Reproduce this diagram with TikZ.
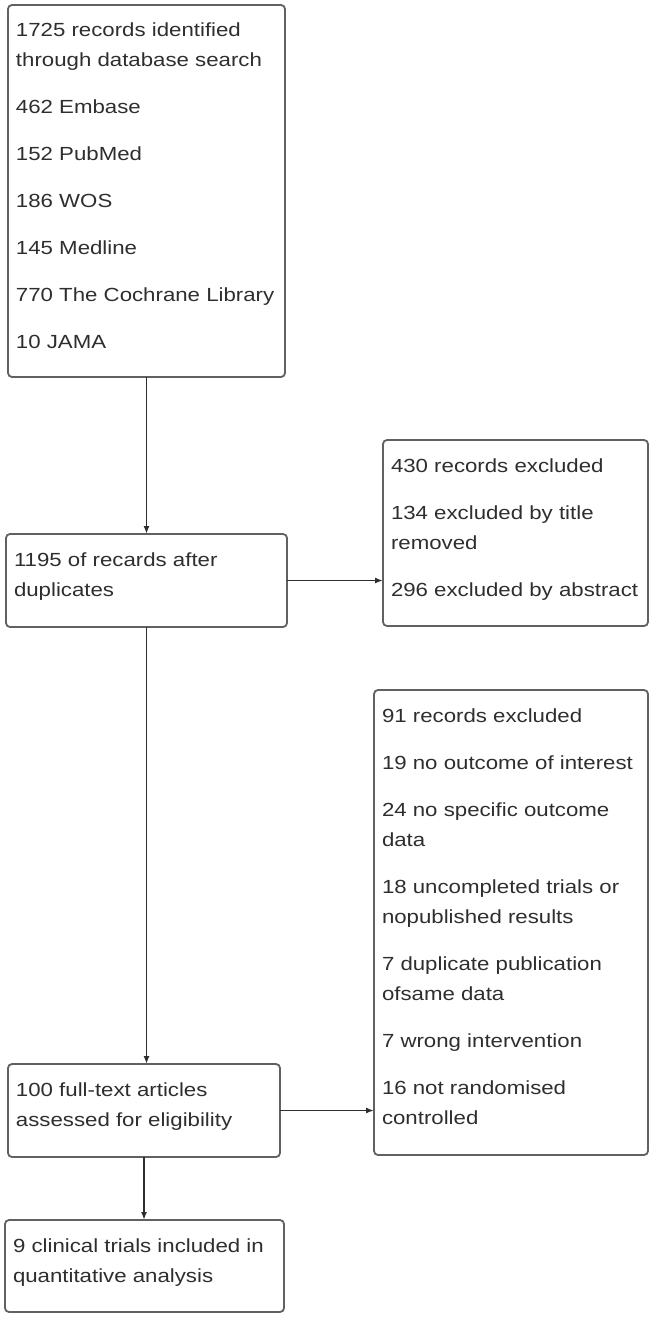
\documentclass[tikz,border=0pt]{standalone}
\usepackage{fontspec}
\setmainfont[FakeStretch=1.17]{Liberation Sans}
\usetikzlibrary{arrows.meta}
\newcommand\bxtext[3]{\parbox[c][#2][t]{#1}{\fontsize{19}{30}\selectfont\raggedright\rule{0pt}{32pt}#3}}
\tikzset{
  boxnode/.style={draw=black!62, line width=1.8pt, rounded corners=4pt, inner xsep=8pt, inner ysep=0pt, outer sep=0pt, text=black!82, anchor=north west},
  conn/.style={draw=black!82, line width=1.7pt, -{Latex[length=8pt,width=6pt]}}
}
\begin{document}
\begin{tikzpicture}[x=1pt,y=1pt]
\useasboundingbox (0,0) rectangle (661,-1321);
\node[boxnode] (b1) at (8,-5) {\bxtext{261pt}{372pt}{%
\mbox{1725 records identified}\\\mbox{through database search}\\[17pt]%
\mbox{462 Embase}\\[17pt]\mbox{152 PubMed}\\[17pt]\mbox{186 WOS}\\[17pt]%
\mbox{145 Medline}\\[17pt]\mbox{770 The Cochrane Library}\\[17pt]\mbox{10 JAMA}}};
\node[boxnode] (b2) at (6,-534) {\bxtext{265pt}{93pt}{%
\mbox{1195 of recards after}\\\mbox{duplicates}}};
\node[boxnode] (b3) at (383,-440) {\bxtext{249pt}{186pt}{%
\mbox{430 records excluded}\\[17pt]\mbox{134 excluded by title}\\\mbox{removed}\\[17pt]%
\mbox{296 excluded by abstract}}};
\node[boxnode] (b4) at (8,-1064) {\bxtext{256pt}{93pt}{%
\mbox{100 full-text articles}\\\mbox{assessed for eligibility}}};
\node[boxnode] (b5) at (374,-690) {\bxtext{258pt}{465pt}{%
\mbox{91 records excluded}\\[17pt]\mbox{19 no outcome of interest}\\[17pt]%
\mbox{24 no specific outcome}\\\mbox{data}\\[17pt]%
\mbox{18 uncompleted trials or}\\\mbox{nopublished results}\\[17pt]%
\mbox{7 duplicate publication}\\\mbox{ofsame data}\\[17pt]%
\mbox{7 wrong intervention}\\[17pt]%
\mbox{16 not randomised}\\\mbox{controlled}}};
\node[boxnode] (b6) at (5,-1220) {\bxtext{263pt}{92pt}{%
\mbox{9 clinical trials included in}\\\mbox{quantitative analysis}}};
\draw[conn] (b1.south) -- (b1.south |- b2.north);
\draw[conn] (b2.east) -- (b2.east -| b3.west);
\draw[conn] (b2.south) -- (b2.south |- b4.north);
\draw[conn] (b4.east) -- (b4.east -| b5.west);
\draw[conn] (b4.south) -- (b4.south |- b6.north);
\end{tikzpicture}
\end{document}
